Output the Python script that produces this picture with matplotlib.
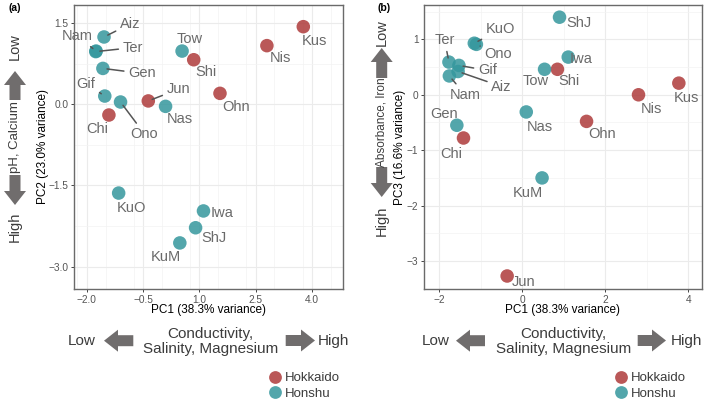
import matplotlib
matplotlib.use("Agg")
import matplotlib.pyplot as plt
from matplotlib.patches import FancyArrow
from matplotlib.transforms import IdentityTransform
from matplotlib.lines import Line2D
from matplotlib.ticker import MultipleLocator

plt.rcParams['font.family'] = ['Liberation Sans', 'DejaVu Sans']

# ---------------- data ----------------
sites = ["Aiz", "Nam", "Ter", "Gen", "Gif", "Ono", "Chi", "Jun", "Nas",
         "Tow", "Shi", "Ohn", "Nis", "Kus", "KuO", "Iwa", "ShJ", "KuM"]
region = ["Honshu", "Honshu", "Honshu", "Honshu", "Honshu", "Honshu",
          "Hokkaido", "Hokkaido", "Honshu", "Honshu", "Hokkaido", "Hokkaido",
          "Hokkaido", "Hokkaido", "Honshu", "Honshu", "Honshu", "Honshu"]
pc1 = [-1.54, -1.75, -1.76, -1.57, -1.52, -1.10, -1.41, -0.36, 0.10,
       0.54, 0.85, 1.55, 2.80, 3.77, -1.15, 1.11, 0.90, 0.48]
pc2 = [1.24, 0.98, 0.97, 0.66, 0.15, 0.04, -0.20, 0.06, -0.04,
       0.98, 0.82, 0.20, 1.08, 1.43, -1.64, -1.97, -2.28, -2.56]
pc3 = [0.42, 0.34, 0.59, -0.55, 0.53, 0.91, -0.78, -3.27, -0.31,
       0.46, 0.46, -0.48, 0.00, 0.21, 0.93, 0.68, 1.40, -1.50]
regions = ["Hokkaido", "Honshu"]
xlab = "PC1 (38.3% variance)"
ylab_a = "PC2 (23.0% variance)"
ylab_b = "PC3 (16.6% variance)"
xticks_a = [-2.0, -0.5, 1.0, 2.5, 4.0]
yticks_a = [-3.0, -1.5, 0.0, 1.5]
xticks_b = [-2, 0, 2, 4]
yticks_b = [-3, -2, -1, 0, 1]

# ---------------- style / layout ----------------
colors = {"Hokkaido": "#AE3B3B", "Honshu": "#35979D"}
ALPHA = 0.85
lab_col = "#6A6A6A"
arrow_col = "#706D6D"
txt_col = "#3C3C3C"

# label offsets in pixels (dx right, dy down) and segment flag
off_a = {"Aiz": (26, -13, 1), "Nam": (-19, -15, 1), "Ter": (37, -4, 1),
         "Gen": (39, 5, 1), "Gif": (-18.6, -12.3, 1), "Ono": (24, 32, 1),
         "Chi": (-11.6, 14, 0), "Jun": (30, -11.7, 1), "Nas": (14, 12.6, 0),
         "Tow": (7.6, -12.3, 0), "Shi": (12.4, 12, 0), "Ohn": (15.7, 13.3, 0),
         "Nis": (14, 12.7, 0), "Kus": (11.6, 14.7, 0), "KuO": (12.7, 15, 0),
         "Iwa": (19, 2.3, 0), "ShJ": (18.3, 10, 0), "KuM": (-14.3, 14.4, 0)}
off_b = {"ShJ": (19.3, 6, 0), "KuO": (26, -14, 1), "Ono": (21.7, 10, 1),
         "Iwa": (12.7, 2.3, 0), "Ter": (-4.3, -21.7, 1), "Gif": (28.3, 5, 1),
         "Aiz": (43.3, 15, 1), "Nam": (15.7, 18.7, 1), "Tow": (-8.7, 11.7, 0),
         "Shi": (12, 12, 0), "Kus": (7.7, 15, 0), "Nis": (13.3, 14, 0),
         "Nas": (14, 15, 0), "Ohn": (15.7, 12.7, 0), "Gen": (-12.7, -11.7, 0),
         "Chi": (-12.3, 16, 0), "KuM": (-14, 15, 0), "Jun": (16.7, 5.7, 0)}

W, H = 709, 408
fig = plt.figure(figsize=(W / 100, H / 100), dpi=100)


def px_axes(l, t, r, b):
    return fig.add_axes([l / W, 1 - b / H, (r - l) / W, (b - t) / H])


ax_a = px_axes(74, 5, 342.7, 289)
ax_b = px_axes(424, 5, 701.7, 289.3)


def draw_panel(ax, y, offs, xlim, ylim, xt, yt, ylab, fmt):
    for reg in regions:
        xs = [pc1[i] for i in range(len(sites)) if region[i] == reg]
        ys = [y[i] for i in range(len(sites)) if region[i] == reg]
        ax.scatter(xs, ys, s=95, color=colors[reg], alpha=ALPHA,
                   edgecolors='none', zorder=3)
    for i, s in enumerate(sites):
        dx, dy, seg = offs[s]
        kw = {}
        if seg:
            kw['arrowprops'] = dict(arrowstyle='-', color='#555555', lw=1.1,
                                    shrinkA=1, shrinkB=3)
        ax.annotate(s, (pc1[i], y[i]), xytext=(dx, -dy),
                    textcoords='offset pixels', ha='center', va='center',
                    fontsize=10.5, color=lab_col, zorder=4, **kw)
    ax.set_xlim(*xlim)
    ax.set_ylim(*ylim)
    ax.set_xticks(xt)
    ax.set_yticks(yt)
    ax.set_xticklabels([fmt(v) for v in xt])
    ax.set_yticklabels([fmt(v) for v in yt])
    stepx = (xt[1] - xt[0]) / 2
    stepy = (yt[1] - yt[0]) / 2
    ax.xaxis.set_minor_locator(MultipleLocator(stepx))
    ax.yaxis.set_minor_locator(MultipleLocator(stepy))
    ax.grid(which='major', color='#EBEBEB', lw=0.8, zorder=0)
    ax.grid(which='minor', color='#F3F3F3', lw=0.5, zorder=0)
    ax.set_axisbelow(True)
    ax.tick_params(which='major', length=2.5, width=0.7, color='#444444',
                   labelsize=7.3, labelcolor='#555555', pad=1.5)
    ax.tick_params(which='minor', length=0)
    for sp in ax.spines.values():
        sp.set_color('#6A6A6A')
        sp.set_linewidth(1.0)
    ax.set_xlabel(xlab, fontsize=8.5, color='black')
    ax.set_ylabel(ylab, fontsize=8.5, color='black')


fmt_a = lambda v: f"{v:.1f}".replace("-", "\u2212")
fmt_b = lambda v: f"{v:d}".replace("-", "\u2212")
draw_panel(ax_a, pc2, off_a, (-2.34, 4.82), (-3.41, 1.83),
           xticks_a, yticks_a, ylab_a, fmt_a)
draw_panel(ax_b, pc3, off_b, (-2.36, 4.32), (-3.51, 1.62),
           xticks_b, yticks_b, ylab_b, fmt_b)

ax_a.xaxis.set_label_coords(0.5, (289 - 304) / 284)
ax_b.xaxis.set_label_coords(0.5, (289.3 - 304) / 284.3)
ax_a.yaxis.set_label_coords((49 - 74) / 268.7, 0.5)
ax_b.yaxis.set_label_coords((406 - 424) / 277.7, 0.5)

# ---------------- decorations (pixel coordinates, y from top) ----------------
def ftext(x, y, s, **kw):
    fig.text(x / W, 1 - y / H, s, **kw)


def arrow(x0, y0, x1, y1):
    # tail (x0,y0) -> tip (x1,y1), image pixel coords
    fig.add_artist(FancyArrow(x0, H - y0, x1 - x0, -(y1 - y0), width=11,
                              head_width=22, head_length=14,
                              length_includes_head=True, color=arrow_col,
                              transform=IdentityTransform(), lw=0))


ftext(15, 8, "(a)", fontsize=7.5, fontweight='bold', ha='center', va='center')
ftext(384, 8, "(b)", fontsize=7.5, fontweight='bold', ha='center', va='center')

side = dict(rotation=90, ha='center', va='center', color=txt_col)
# panel a vertical
ftext(15, 46.7, "Low", fontsize=10.5, **side)
arrow(15, 100, 15, 71)
ftext(15, 137.5, "pH, Calcium", fontsize=9.5, **side)
arrow(15, 175, 15, 205)
ftext(15, 227, "High", fontsize=10.5, **side)
# panel b vertical
ftext(381.7, 33, "Low", fontsize=10.5, **side)
arrow(381.7, 78, 381.7, 48)
ftext(381.7, 122.5, "Absorbance, Iron", fontsize=8.5, **side)
arrow(381.7, 167, 381.7, 197)
ftext(381.7, 221, "High", fontsize=10.5, **side)

hor = dict(ha='center', va='center', fontsize=11, color=txt_col)
for (lowx, la0, la1, cx, ra0, ra1, highx) in [
        (81.7, 133.3, 104, 210.5, 285.7, 315, 333.3),
        (436, 485, 456, 563.2, 637.7, 666, 686)]:
    ftext(lowx, 341, "Low", **hor)
    arrow(la0, 340.7, la1, 340.7)
    ftext(cx, 341.5, "Conductivity,\nSalinity, Magnesium",
          linespacing=1.05, **hor)
    arrow(ra0, 340.5, ra1, 340.5)
    ftext(highx, 341, "High", **hor)

# legends
for ax, lx in [(ax_a, 268.5), (ax_b, 614.2)]:
    handles = [Line2D([], [], marker='o', ls='none', markersize=9.2,
                      markerfacecolor=colors[r], markeredgecolor='none',
                      alpha=ALPHA) for r in regions]
    ax.legend(handles, regions, loc='upper left',
              bbox_to_anchor=(lx / W, 1 - 372 / H),
              bbox_transform=fig.transFigure, frameon=False, fontsize=9.5,
              handlelength=1.0, handletextpad=0.25, borderpad=0,
              borderaxespad=0, labelspacing=0.25, labelcolor='#3C3C3C')

fig.savefig("out.png", dpi=100)
